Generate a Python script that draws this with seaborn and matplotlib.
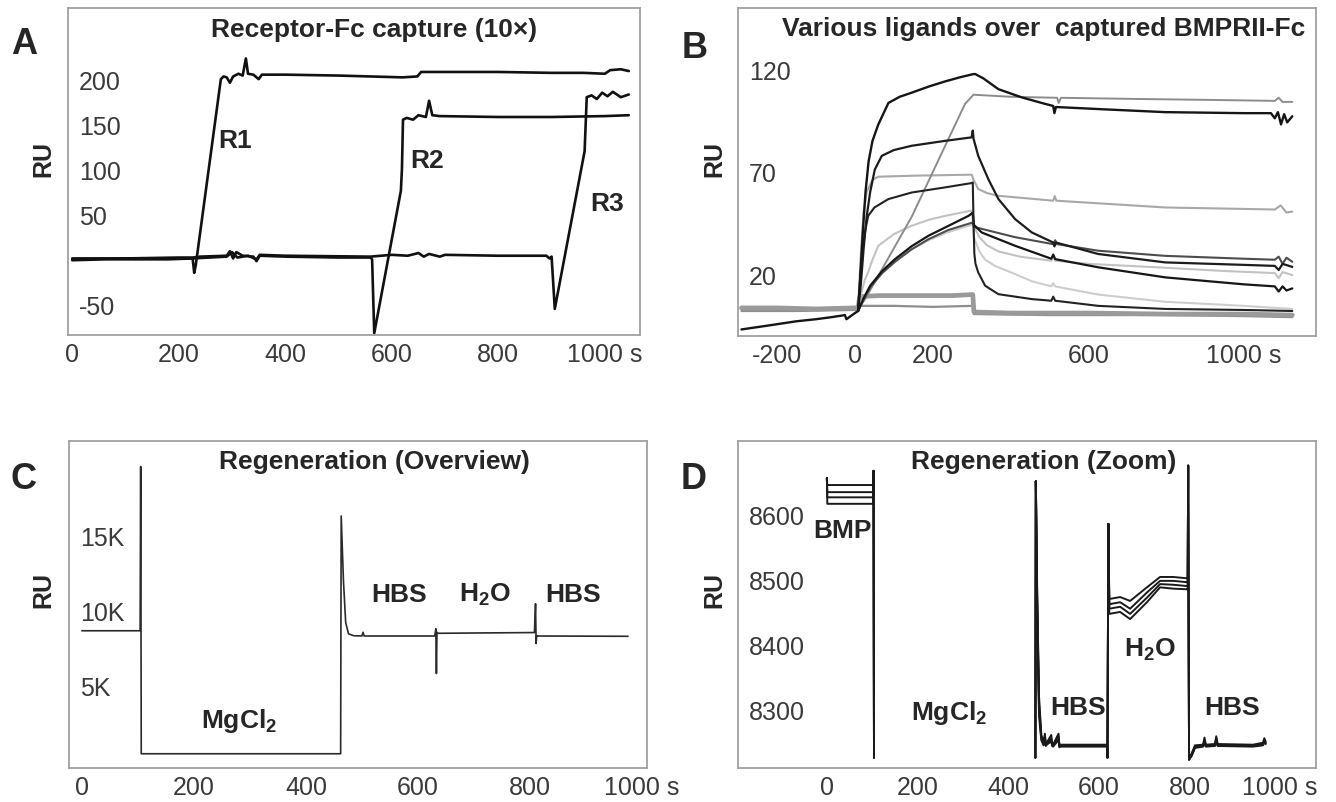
import numpy as np
import pandas as pd
import matplotlib
matplotlib.use("Agg")
import matplotlib.pyplot as plt
import seaborn as sns

nan = np.nan

# ---------------- A: receptor-Fc capture (t [s], RU) ----------------
A_T_R1 = [0, 60, 120, 180, 226, 229, 232, 279, 284, 290, 296, 302, 312, 320, 326, 330, 340,
          350, 356, 400, 500, 560, 620, 648, 655, 700, 800, 900, 960, 1000, 1010, 1030, 1045]
A_RU_R1 = [-1, 0, 0, 0, 1, -15, -6, 200, 203, 202, 196, 203, 206, 204, 223, 206, 205,
           200, 205, 205, 204, 203, 202, 203, 208, 208, 208, 207, 207, 206, 210, 211, 209]
A_T_R2 = [0, 100, 200, 226, 240, 290, 296, 302, 308, 320, 340, 346, 352, 400, 500, 560, 563,
          567, 617, 619, 621, 628, 640, 650, 664, 670, 676, 690, 800, 900, 1000, 1045]
A_RU_R2 = [1, 1, 2, 2, 3, 4, 9, 1, 8, 4, 3, -2, 4, 3, 2, 2, 0,
           -82, 76, 100, 155, 157, 155, 160, 158, 176, 160, 159, 158, 158, 159, 160]
A_T_R3 = [0, 100, 226, 290, 300, 310, 330, 346, 352, 400, 560, 600, 630, 650, 660, 670, 690,
          700, 800, 890, 896, 900, 906, 962, 964, 966, 975, 985, 995, 1005, 1015, 1030, 1045]
A_RU_R3 = [0, 1, 1, 3, 8, 2, 4, 0, 5, 4, 3, 5, 4, 7, 3, 6, 3,
           5, 4, 4, 1, 3, -55, 120, 150, 180, 182, 178, 185, 181, 186, 180, 183]

# ---------------- B: ligands over captured BMPRII-Fc ----------------
B_T_TOP = [-292, -220, -150, -100, -60, -26, -22, 0, 8, 14, 20, 27, 35, 45, 60, 86, 115, 146,
           190, 232, 270, 303, 309, 330, 369, 429, 480, 510, 513, 517, 626, 798, 1000, 1070,
           1080, 1088, 1096, 1104, 1112, 1125]
B_RU_TOP = [-7, -5, -3, -2, -1, 0, -2, 1, 2, 20, 40, 60, 75, 85, 93, 103.5, 106.5, 108.5,
            111.5, 114, 116, 117.5, 117.6, 115.5, 110.2, 106.2, 103.5, 102, 98.5, 101.5, 100.5,
            99, 98.5, 98.5, 96, 99, 93, 98, 94, 97]
B_T_LIN = [8, 26, 146, 232, 283, 305, 400, 520, 524, 530, 700, 900, 1080, 1090, 1100, 1125]
B_RU_LIN = [3, 7.8, 48, 82.6, 103, 107.5, 106.5, 106, 103.5, 106, 105.5, 105, 104.5, 106, 104, 104]
B_T_B2 = [8, 15, 22, 30, 39, 51, 69, 100, 146, 232, 300, 303, 305, 317, 343, 369, 412, 455,
          510, 513, 517, 626, 798, 1000, 1080, 1090, 1100, 1125]
B_RU_B2 = [2, 15, 32, 48, 60, 71, 77.7, 80.5, 82.6, 85, 86.7, 90, 86, 77.7, 66.3, 56.6, 46.8,
           40.3, 35.4, 33.5, 35.4, 29.8, 25.7, 24.5, 24, 22, 25, 23.5]
B_T_L1 = [8, 15, 22, 30, 45, 60, 150, 300, 305, 317, 340, 369, 510, 514, 518, 798, 1080, 1095,
          1110, 1125]
B_RU_L1 = [3, 30, 50, 60, 66, 67.5, 68, 68.5, 66, 61.5, 59.5, 58.2, 55.8, 58, 55.8, 52.5, 51.5,
           53.5, 50, 50.5]
B_T_B3 = [8, 14, 20, 27, 34, 50, 86, 146, 232, 300, 303, 305, 307, 310, 317, 335, 369, 455,
          505, 510, 515, 626, 798, 1000, 1125]
B_RU_B3 = [2, 20, 33, 42, 48.4, 52.5, 56.6, 59.8, 62.3, 64.4, 64.7, 45, 30, 25, 20.8, 14.3,
           10.2, 7.8, 7, 9, 7, 4.5, 3, 2.5, 2]
B_T_L2 = [8, 15, 25, 34, 45, 60, 100, 146, 190, 232, 300, 304, 320, 340, 370, 425, 505, 510,
          515, 600, 768, 950, 1080, 1090, 1100, 1125]
B_RU_L2 = [3, 10, 17, 21, 27, 33.8, 39.5, 43.6, 46.5, 48.4, 51, 44, 38, 34, 31, 28.5, 26.5,
           28.5, 26.5, 25, 23.4, 21.5, 20.5, 18, 21, 19.5]
B_T_B4 = [8, 21, 39, 70, 103, 145, 189, 240, 292, 300, 303, 306, 326, 412, 505, 510, 515, 626,
          798, 1000, 1080, 1090, 1100, 1110, 1125]
B_RU_B4 = [2, 7.8, 14.3, 21.5, 27.3, 33.5, 38.7, 43.5, 48.4, 49.5, 50, 44, 40.3, 33.8, 27.5, 29.5,
           27.3, 23.3, 18.4, 15, 14, 11.5, 14, 12, 13]
B_T_D1 = [8, 21, 39, 70, 103, 145, 189, 240, 300, 303, 306, 412, 510, 515, 520, 626, 798, 1000,
          1080, 1090, 1100, 1110, 1125]
B_RU_D1 = [2, 7, 13.5, 20.5, 26, 32, 37, 41.5, 45, 45, 43, 38, 34.6, 36.5, 34.6, 31.4, 28.9, 27.5,
           27, 28.5, 25, 28, 26]
B_T_L3 = [8, 21, 39, 70, 103, 145, 189, 240, 300, 303, 306, 320, 335, 360, 412, 455, 505, 510,
          515, 626, 798, 1000, 1125]
B_RU_L3 = [2, 8, 14, 21, 26.5, 32, 36.5, 40.5, 44, 44, 38, 31, 27, 24, 20, 16.5, 14, 15.5,
           14, 10, 6.5, 4.5, 3]
B_T_BAND = [-292, -200, -100, 0, 8, 12, 60, 150, 250, 300, 303, 306, 400, 600, 800, 1000, 1125]
B_RU_BAND = [3.5, 3.5, 3, 3.5, 3.5, 9, 9.5, 9.5, 9.5, 10, 10, 1.5, 1, 1, 0.5, 0.5, 0]
B_T_BASE = [-292, -150, 0, 8, 14, 100, 200, 303, 306, 500, 800, 1000, 1125]
B_RU_BASE = [2, 2, 2.5, 2.5, 4.5, 4.5, 4, 4.5, 0.5, 0, 0, -0.5, -1]

# ---------------- C: regeneration overview ----------------
C_T = [0, 104, 105, 106, 462, 463, 467, 471, 476, 485, 500, 502, 504, 630, 632, 633, 634, 636,
       700, 808, 810, 811, 812, 814, 900, 975]
C_RU = [8650, 8650, 19600, 450, 450, 16300, 12000, 9200, 8450, 8320, 8300, 8550, 8300, 8300, 8780,
        5800, 8550, 8480, 8500, 8530, 10450, 7800, 8320, 8300, 8290, 8280]

# ---------------- D: regeneration zoom (4 cycles, nan = off-scale gap) ----------------
D_T = [0, 1, 102, 103, 104, 300, 460, 461, 464, 468, 473, 478, 481, 483, 485, 495, 497, 499, 511,
       513, 515, 618, 619, 621, 623, 647, 669, 706, 735, 764, 794, 796, 797, 799, 805, 812, 830,
       833, 836, 856, 859, 862, 940, 962, 965, 968]
D_RU_1 = [8657, 8646, 8646, 8668, 8225, nan, 8225, 8652, 8480, 8320, 8260, 8250, 8262, 8246, 8248,
          8260, 8246, 8245, 8262, 8244, 8245, 8245, 8225, 8586, 8470, 8473, 8467, 8488, 8504, 8504,
          8502, 8502, 8676, 8222, 8232, 8244, 8245, 8256, 8245, 8246, 8258, 8246, 8245, 8248, 8255, 8250]
D_RU_2 = [8657, 8635, 8635, 8668, 8225, nan, 8225, 8652, 8470, 8310, 8258, 8248, 8258, 8245, 8247,
          8255, 8245, 8244, 8258, 8243, 8244, 8244, 8225, 8586, 8462, 8465, 8455, 8480, 8498, 8498,
          8496, 8496, 8676, 8222, 8230, 8242, 8244, 8252, 8244, 8245, 8255, 8245, 8244, 8246, 8252, 8248]
D_RU_3 = [8657, 8627, 8627, 8668, 8225, nan, 8225, 8652, 8460, 8300, 8255, 8246, 8255, 8244, 8246,
          8252, 8244, 8243, 8255, 8242, 8243, 8243, 8225, 8586, 8455, 8458, 8447, 8472, 8493, 8492,
          8490, 8490, 8676, 8222, 8229, 8241, 8243, 8250, 8243, 8244, 8252, 8244, 8243, 8245, 8250, 8247]
D_RU_4 = [8657, 8617, 8617, 8668, 8225, nan, 8225, 8652, 8450, 8290, 8252, 8244, 8252, 8243, 8245,
          8250, 8243, 8242, 8252, 8241, 8242, 8242, 8225, 8586, 8447, 8450, 8439, 8465, 8488, 8486,
          8485, 8485, 8676, 8222, 8228, 8240, 8242, 8248, 8242, 8243, 8250, 8243, 8242, 8244, 8248, 8246]

W, H = 1336, 803


def box(l, t, r, b):
    return [l / W, 1 - b / H, (r - l) / W, (b - t) / H]


def draw(ax, t, ru, name, color, lw):
    df = pd.DataFrame({"t": t, "ru": ru})
    df["seg"] = name + df["ru"].isna().cumsum().astype(str)
    df = df.dropna()
    sns.lineplot(data=df, x="t", y="ru", units="seg", estimator=None, sort=False,
                 color=color, linewidth=lw, ax=ax, legend=False)


def style(ax, xlim, ylim, xticks, xlabels, yticks, ylabels):
    ax.set_xlim(xlim)
    ax.set_ylim(ylim)
    ax.set_xticks(xticks)
    ax.set_xticklabels(xlabels)
    ax.set_yticks(yticks)
    ax.set_yticklabels(ylabels)
    ax.set_xlabel("")
    ax.set_ylabel("")
    ax.tick_params(axis="both", direction="in", length=4, width=1, color="#9a9a9a",
                   labelsize=18, labelcolor="#3a3a3a")
    ax.tick_params(axis="y", pad=-8)
    ax.tick_params(axis="x", pad=5)
    for lab in ax.get_yticklabels():
        lab.set_horizontalalignment("left")
    for s in ax.spines.values():
        s.set_visible(True)
        s.set_color("#a0a0a0")
        s.set_linewidth(1.3)


sns.set_theme(style="white")
plt.rcParams["font.family"] = ["Liberation Sans", "DejaVu Sans"]
plt.rcParams["mathtext.default"] = "regular"

fig = plt.figure(figsize=(13.36, 8.03), dpi=100)
axA = fig.add_axes(box(68, 9, 640, 336))
axB = fig.add_axes(box(738, 9, 1316, 337))
axC = fig.add_axes(box(69, 442, 647, 769))
axD = fig.add_axes(box(738, 442, 1316, 769))

# A
for t, ru, n in [(A_T_R1, A_RU_R1, "r1"), (A_T_R2, A_RU_R2, "r2"), (A_T_R3, A_RU_R3, "r3")]:
    draw(axA, t, ru, n, "#111111", 1.9)
style(axA, (-8, 1066), (-84, 279), list(range(0, 1001, 100)),
      ["0", "", "200", "", "400", "", "600", "", "800", "", "1000 s"],
      [-50, 0, 50, 100, 150, 200], ["-50", "", "50", "100", "150", "200"])
lab_kw = dict(fontsize=19, fontweight="bold", ha="center", va="baseline")
axA.text(306, 125, "R1", **lab_kw)
axA.text(666, 103, "R2", **lab_kw)
axA.text(1004, 55, "R3", **lab_kw)

# B
b_traces = [
    (B_T_BASE, B_RU_BASE, "base", "#8e8e8e", 1.6),
    (B_T_BAND, B_RU_BAND, "band", "#9a9a9a", 3.4),
    (B_T_L3, B_RU_L3, "l3", "#cdcdcd", 1.5),
    (B_T_L2, B_RU_L2, "l2", "#c2c2c2", 1.5),
    (B_T_L1, B_RU_L1, "l1", "#a8a8a8", 1.5),
    (B_T_LIN, B_RU_LIN, "lin", "#8c8c8c", 1.4),
    (B_T_D1, B_RU_D1, "d1", "#4d4d4d", 1.5),
    (B_T_B4, B_RU_B4, "b4", "#161616", 1.6),
    (B_T_B3, B_RU_B3, "b3", "#222222", 1.5),
    (B_T_B2, B_RU_B2, "b2", "#1c1c1c", 1.6),
    (B_T_TOP, B_RU_TOP, "top", "#151515", 1.7),
]
for t, ru, n, c, lw in b_traces:
    draw(axB, t, ru, n, c, lw)
style(axB, (-301, 1186), (-10.2, 149.8), list(range(-200, 1001, 200)),
      ["-200", "0", "200", "", "600", "", "1000 s"],
      [20, 45, 70, 95, 120, 145], ["20", "", "70", "", "120", ""])

# C
draw(axC, C_T, C_RU, "c", "#2a2a2a", 1.2)
style(axC, (-23, 1009), (-500, 21300), list(range(0, 1001, 100)),
      ["0", "", "200", "", "400", "", "600", "", "800", "", "1000 s"],
      list(range(0, 20001, 2500)), ["", "", "5K", "", "10K", "", "15K", "", ""])
axC.text(566, 10650, "HBS", **lab_kw)
axC.text(720, 10650, "H$_2$O", **lab_kw)
axC.text(877, 10650, "HBS", **lab_kw)
axC.text(280, 2250, "MgCl$_2$", **lab_kw)

# D
for i, ru in enumerate([D_RU_1, D_RU_2, D_RU_3, D_RU_4]):
    draw(axD, D_T, ru, "d%d_" % i, "#1a1a1a", 1.4)
style(axD, (-196, 1079), (8209, 8714), list(range(-100, 1001, 100)),
      ["", "0", "", "200", "", "400", "", "600", "", "800", "", "1000 s"],
      list(range(8250, 8701, 50)),
      ["", "8300", "", "8400", "", "8500", "", "8600", "", ""])
axD.text(35, 8566, "BMP", **lab_kw)
axD.text(270, 8285, "MgCl$_2$", **lab_kw)
axD.text(555, 8292, "HBS", **lab_kw)
axD.text(712, 8382, "H$_2$O", **lab_kw)
axD.text(893, 8292, "HBS", **lab_kw)

# panel letters, titles, axis labels
for x, y, s in [(24, 45, "A"), (695, 48, "B"), (24, 480, "C"), (694, 480, "D")]:
    fig.text(x / W, 1 - y / H, s, fontsize=26, fontweight="bold", ha="center", va="center")
for x, y, s in [(374, 30, "Receptor-Fc capture (10\u00d7)"),
                (1044, 29, "Various ligands over  captured BMPRII-Fc"),
                (374, 462, "Regeneration (Overview)"),
                (1044, 462, "Regeneration (Zoom)")]:
    fig.text(x / W, 1 - y / H, s, fontsize=19, fontweight="bold", ha="center", va="center")
for x, y in [(43, 159), (714, 159), (43, 590), (714, 590)]:
    fig.text(x / W, 1 - y / H, "RU", fontsize=18, fontweight="bold", rotation=90,
             ha="center", va="center")

fig.savefig("out.png", dpi=100, facecolor="white")
